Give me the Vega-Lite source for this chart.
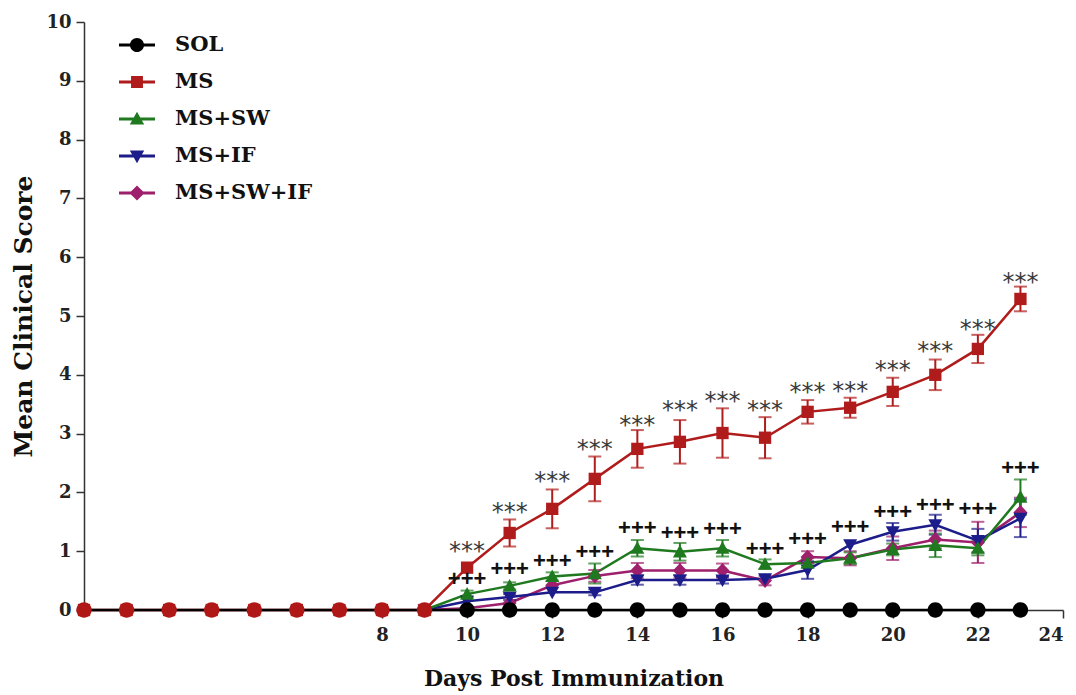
{
  "$schema": "https://vega.github.io/schema/vega-lite/v6.json",
  "width": 979,
  "height": 588,
  "autosize": {"type": "none"},
  "padding": {"left": 84, "top": 22, "right": 13, "bottom": 85},
  "background": "white",
  "config": {
    "view": {"stroke": null},
    "axis": {
      "grid": false,
      "domainColor": "#333",
      "domainWidth": 1.5,
      "tickColor": "#333",
      "tickWidth": 1.5,
      "tickSize": 8,
      "labelFont": "DejaVu Serif",
      "labelFontWeight": "bold",
      "labelFontSize": 18,
      "labelColor": "#222",
      "titleFont": "DejaVu Serif",
      "titleFontWeight": "bold",
      "titleColor": "#111"
    }
  },
  "datasets": {
    "scores": [
      {"g": "MS+SW+IF", "d": 9, "m": 0, "lo": 0, "hi": 0},
      {"g": "MS+SW+IF", "d": 10, "m": 0.03, "lo": 0.03, "hi": 0.03},
      {"g": "MS+SW+IF", "d": 11, "m": 0.12, "lo": 0.12, "hi": 0.12},
      {"g": "MS+SW+IF", "d": 12, "m": 0.42, "lo": 0.42, "hi": 0.42},
      {"g": "MS+SW+IF", "d": 13, "m": 0.58, "lo": 0.48, "hi": 0.68},
      {"g": "MS+SW+IF", "d": 14, "m": 0.67, "lo": 0.54, "hi": 0.8},
      {"g": "MS+SW+IF", "d": 15, "m": 0.67, "lo": 0.54, "hi": 0.8},
      {"g": "MS+SW+IF", "d": 16, "m": 0.67, "lo": 0.55, "hi": 0.79},
      {"g": "MS+SW+IF", "d": 17, "m": 0.5, "lo": 0.42, "hi": 0.58},
      {"g": "MS+SW+IF", "d": 18, "m": 0.9, "lo": 0.8, "hi": 1.0},
      {"g": "MS+SW+IF", "d": 19, "m": 0.88, "lo": 0.76, "hi": 1.0},
      {"g": "MS+SW+IF", "d": 20, "m": 1.05, "lo": 0.85, "hi": 1.25},
      {"g": "MS+SW+IF", "d": 21, "m": 1.2, "lo": 1.05, "hi": 1.35},
      {"g": "MS+SW+IF", "d": 22, "m": 1.15, "lo": 0.8, "hi": 1.5},
      {"g": "MS+SW+IF", "d": 23, "m": 1.66, "lo": 1.41, "hi": 1.91},
      {"g": "MS+IF", "d": 9, "m": 0, "lo": 0, "hi": 0},
      {"g": "MS+IF", "d": 10, "m": 0.15, "lo": 0.15, "hi": 0.15},
      {"g": "MS+IF", "d": 11, "m": 0.22, "lo": 0.17, "hi": 0.27},
      {"g": "MS+IF", "d": 12, "m": 0.3, "lo": 0.3, "hi": 0.3},
      {"g": "MS+IF", "d": 13, "m": 0.3, "lo": 0.25, "hi": 0.35},
      {"g": "MS+IF", "d": 14, "m": 0.51, "lo": 0.43, "hi": 0.59},
      {"g": "MS+IF", "d": 15, "m": 0.51, "lo": 0.43, "hi": 0.59},
      {"g": "MS+IF", "d": 16, "m": 0.51, "lo": 0.45, "hi": 0.57},
      {"g": "MS+IF", "d": 17, "m": 0.53, "lo": 0.53, "hi": 0.53},
      {"g": "MS+IF", "d": 18, "m": 0.68, "lo": 0.53, "hi": 0.83},
      {"g": "MS+IF", "d": 19, "m": 1.11, "lo": 1.11, "hi": 1.11},
      {"g": "MS+IF", "d": 20, "m": 1.33, "lo": 1.18, "hi": 1.48},
      {"g": "MS+IF", "d": 21, "m": 1.45, "lo": 1.28, "hi": 1.62},
      {"g": "MS+IF", "d": 22, "m": 1.18, "lo": 0.98, "hi": 1.38},
      {"g": "MS+IF", "d": 23, "m": 1.56, "lo": 1.24, "hi": 1.88},
      {"g": "MS+SW", "d": 9, "m": 0, "lo": 0, "hi": 0},
      {"g": "MS+SW", "d": 10, "m": 0.27, "lo": 0.21, "hi": 0.33},
      {"g": "MS+SW", "d": 11, "m": 0.41, "lo": 0.35, "hi": 0.47},
      {"g": "MS+SW", "d": 12, "m": 0.57, "lo": 0.5, "hi": 0.64},
      {"g": "MS+SW", "d": 13, "m": 0.62, "lo": 0.45, "hi": 0.79},
      {"g": "MS+SW", "d": 14, "m": 1.05, "lo": 0.91, "hi": 1.19},
      {"g": "MS+SW", "d": 15, "m": 0.99, "lo": 0.84, "hi": 1.14},
      {"g": "MS+SW", "d": 16, "m": 1.05, "lo": 0.91, "hi": 1.19},
      {"g": "MS+SW", "d": 17, "m": 0.78, "lo": 0.7, "hi": 0.86},
      {"g": "MS+SW", "d": 18, "m": 0.8, "lo": 0.72, "hi": 0.88},
      {"g": "MS+SW", "d": 19, "m": 0.88, "lo": 0.78, "hi": 0.98},
      {"g": "MS+SW", "d": 20, "m": 1.03, "lo": 0.93, "hi": 1.13},
      {"g": "MS+SW", "d": 21, "m": 1.1, "lo": 0.9, "hi": 1.3},
      {"g": "MS+SW", "d": 22, "m": 1.05, "lo": 0.93, "hi": 1.17},
      {"g": "MS+SW", "d": 23, "m": 1.92, "lo": 1.62, "hi": 2.22},
      {"g": "MS", "d": 1, "m": 0, "lo": 0, "hi": 0},
      {"g": "MS", "d": 2, "m": 0, "lo": 0, "hi": 0},
      {"g": "MS", "d": 3, "m": 0, "lo": 0, "hi": 0},
      {"g": "MS", "d": 4, "m": 0, "lo": 0, "hi": 0},
      {"g": "MS", "d": 5, "m": 0, "lo": 0, "hi": 0},
      {"g": "MS", "d": 6, "m": 0, "lo": 0, "hi": 0},
      {"g": "MS", "d": 7, "m": 0, "lo": 0, "hi": 0},
      {"g": "MS", "d": 8, "m": 0, "lo": 0, "hi": 0},
      {"g": "MS", "d": 9, "m": 0, "lo": 0, "hi": 0},
      {"g": "MS", "d": 10, "m": 0.72, "lo": 0.72, "hi": 0.72},
      {"g": "MS", "d": 11, "m": 1.31, "lo": 1.08, "hi": 1.54},
      {"g": "MS", "d": 12, "m": 1.72, "lo": 1.39, "hi": 2.05},
      {"g": "MS", "d": 13, "m": 2.23, "lo": 1.85, "hi": 2.61},
      {"g": "MS", "d": 14, "m": 2.74, "lo": 2.42, "hi": 3.06},
      {"g": "MS", "d": 15, "m": 2.86, "lo": 2.49, "hi": 3.23},
      {"g": "MS", "d": 16, "m": 3.01, "lo": 2.59, "hi": 3.43},
      {"g": "MS", "d": 17, "m": 2.93, "lo": 2.58, "hi": 3.28},
      {"g": "MS", "d": 18, "m": 3.37, "lo": 3.17, "hi": 3.57},
      {"g": "MS", "d": 19, "m": 3.44, "lo": 3.27, "hi": 3.61},
      {"g": "MS", "d": 20, "m": 3.71, "lo": 3.47, "hi": 3.95},
      {"g": "MS", "d": 21, "m": 4.0, "lo": 3.74, "hi": 4.26},
      {"g": "MS", "d": 22, "m": 4.44, "lo": 4.2, "hi": 4.68},
      {"g": "MS", "d": 23, "m": 5.29, "lo": 5.08, "hi": 5.5},
      {"g": "SOL", "d": 1, "m": 0, "lo": 0, "hi": 0},
      {"g": "SOL", "d": 2, "m": 0, "lo": 0, "hi": 0},
      {"g": "SOL", "d": 3, "m": 0, "lo": 0, "hi": 0},
      {"g": "SOL", "d": 4, "m": 0, "lo": 0, "hi": 0},
      {"g": "SOL", "d": 5, "m": 0, "lo": 0, "hi": 0},
      {"g": "SOL", "d": 6, "m": 0, "lo": 0, "hi": 0},
      {"g": "SOL", "d": 7, "m": 0, "lo": 0, "hi": 0},
      {"g": "SOL", "d": 8, "m": 0, "lo": 0, "hi": 0},
      {"g": "SOL", "d": 9, "m": 0, "lo": 0, "hi": 0},
      {"g": "SOL", "d": 10, "m": 0, "lo": 0, "hi": 0},
      {"g": "SOL", "d": 11, "m": 0, "lo": 0, "hi": 0},
      {"g": "SOL", "d": 12, "m": 0, "lo": 0, "hi": 0},
      {"g": "SOL", "d": 13, "m": 0, "lo": 0, "hi": 0},
      {"g": "SOL", "d": 14, "m": 0, "lo": 0, "hi": 0},
      {"g": "SOL", "d": 15, "m": 0, "lo": 0, "hi": 0},
      {"g": "SOL", "d": 16, "m": 0, "lo": 0, "hi": 0},
      {"g": "SOL", "d": 17, "m": 0, "lo": 0, "hi": 0},
      {"g": "SOL", "d": 18, "m": 0, "lo": 0, "hi": 0},
      {"g": "SOL", "d": 19, "m": 0, "lo": 0, "hi": 0},
      {"g": "SOL", "d": 20, "m": 0, "lo": 0, "hi": 0},
      {"g": "SOL", "d": 21, "m": 0, "lo": 0, "hi": 0},
      {"g": "SOL", "d": 22, "m": 0, "lo": 0, "hi": 0},
      {"g": "SOL", "d": 23, "m": 0, "lo": 0, "hi": 0}
    ],
    "annot": [
      {"d": 10, "v": 1.07, "t": "***"},
      {"d": 11, "v": 1.74, "t": "***"},
      {"d": 12, "v": 2.26, "t": "***"},
      {"d": 13, "v": 2.81, "t": "***"},
      {"d": 14, "v": 3.21, "t": "***"},
      {"d": 15, "v": 3.47, "t": "***"},
      {"d": 16, "v": 3.62, "t": "***"},
      {"d": 17, "v": 3.47, "t": "***"},
      {"d": 18, "v": 3.78, "t": "***"},
      {"d": 19, "v": 3.79, "t": "***"},
      {"d": 20, "v": 4.15, "t": "***"},
      {"d": 21, "v": 4.47, "t": "***"},
      {"d": 22, "v": 4.85, "t": "***"},
      {"d": 23, "v": 5.65, "t": "***"},
      {"d": 10, "v": 0.53, "t": "+++"},
      {"d": 11, "v": 0.7, "t": "+++"},
      {"d": 12, "v": 0.83, "t": "+++"},
      {"d": 13, "v": 0.99, "t": "+++"},
      {"d": 14, "v": 1.4, "t": "+++"},
      {"d": 15, "v": 1.31, "t": "+++"},
      {"d": 16, "v": 1.38, "t": "+++"},
      {"d": 17, "v": 1.04, "t": "+++"},
      {"d": 18, "v": 1.21, "t": "+++"},
      {"d": 19, "v": 1.41, "t": "+++"},
      {"d": 20, "v": 1.67, "t": "+++"},
      {"d": 21, "v": 1.79, "t": "+++"},
      {"d": 22, "v": 1.72, "t": "+++"},
      {"d": 23, "v": 2.42, "t": "+++"}
    ]
  },
  "encoding": {
    "x": {
      "field": "d",
      "type": "quantitative",
      "scale": {"domain": [1, 24], "nice": false, "zero": false},
      "axis": {"values": [8, 10, 12, 14, 16, 18, 20, 22, 24], "title": "Days Post Immunization", "titleFontSize": 22, "labelPadding": 8, "titlePadding": 24}
    }
  },
  "layer": [
    {
      "data": {"name": "scores"},
      "mark": {"type": "line", "strokeWidth": 2.5},
      "encoding": {
        "y": {
          "field": "m",
          "type": "quantitative",
          "scale": {"domain": [0, 10], "nice": false},
          "axis": {"values": [0, 1, 2, 3, 4, 5, 6, 7, 8, 9, 10], "format": "d", "title": "Mean Clinical Score", "titleFontSize": 25, "labelPadding": 5, "titlePadding": 9}
        },
        "color": {
          "field": "g",
          "type": "nominal",
          "scale": {"domain": ["SOL", "MS", "MS+SW", "MS+IF", "MS+SW+IF"], "range": ["#000000", "#b01c1c", "#1f7a1f", "#1c1c8a", "#9e1f6b"]},
          "legend": {
            "title": null,
            "orient": "none",
            "legendX": 35,
            "legendY": 5,
            "symbolSize": 1296,
            "symbolStrokeWidth": 0,
            "symbolOpacity": 1,
            "labelFont": "DejaVu Serif",
            "labelFontWeight": "bold",
            "labelFontSize": 21,
            "labelColor": "#111",
            "labelOffset": 20,
            "rowPadding": 9,
            "padding": 0,
            "encode": {
              "symbols": {
                "update": {
                  "fill": {"scale": "color", "field": "value"},
                  "stroke": {"value": "transparent"},
                  "strokeWidth": {"value": 0},
                  "opacity": {"value": 1},
                  "shape": {"signal": "'M-1,-0.08H1V0.08H-1Z' + (datum.value == 'SOL' ? 'M0.39,0A0.39,0.39,0,1,1,-0.39,0A0.39,0.39,0,1,1,0.39,0Z' : datum.value == 'MS' ? 'M-0.33,-0.33H0.33V0.33H-0.33Z' : datum.value == 'MS+SW' ? 'M0,-0.4L0.4,0.3H-0.4Z' : datum.value == 'MS+IF' ? 'M0,0.4L-0.4,-0.3H0.4Z' : 'M0,-0.42L0.42,0L0,0.42L-0.42,0Z')"}
                }
              }
            }
          }
        }
      }
    },
    {
      "data": {"name": "scores"},
      "transform": [{"filter": "datum.hi > datum.lo"}],
      "mark": {"type": "errorbar", "ticks": {"size": 13, "thickness": 2}, "thickness": 2},
      "encoding": {
        "y": {"field": "lo", "type": "quantitative", "title": "Mean Clinical Score"},
        "y2": {"field": "hi"},
        "color": {"field": "g", "type": "nominal"}
      }
    },
    {
      "data": {"name": "scores"},
      "transform": [{"filter": "datum.g == 'MS+SW+IF'"}],
      "mark": {"type": "point", "filled": true, "opacity": 1, "size": 196, "strokeWidth": 0, "shape": "M0,-1.05L1,0L0,1.05L-1,0Z"},
      "encoding": {
        "y": {"field": "m", "type": "quantitative", "title": "Mean Clinical Score"},
        "color": {"field": "g", "type": "nominal"}
      }
    },
    {
      "data": {"name": "scores"},
      "transform": [{"filter": "datum.g == 'MS+IF'"}],
      "mark": {"type": "point", "filled": true, "opacity": 1, "size": 196, "strokeWidth": 0, "shape": "M0,1L1,-0.8H-1Z"},
      "encoding": {
        "y": {"field": "m", "type": "quantitative", "title": "Mean Clinical Score"},
        "color": {"field": "g", "type": "nominal"}
      }
    },
    {
      "data": {"name": "scores"},
      "transform": [{"filter": "datum.g == 'MS+SW'"}],
      "mark": {"type": "point", "filled": true, "opacity": 1, "size": 196, "strokeWidth": 0, "shape": "M0,-1L1,0.8H-1Z"},
      "encoding": {
        "y": {"field": "m", "type": "quantitative", "title": "Mean Clinical Score"},
        "color": {"field": "g", "type": "nominal"}
      }
    },
    {
      "data": {"name": "scores"},
      "transform": [{"filter": "datum.g == 'MS'"}],
      "mark": {"type": "point", "filled": true, "opacity": 1, "size": 196, "strokeWidth": 0, "shape": "M-0.88,-0.88H0.88V0.88H-0.88Z"},
      "encoding": {
        "y": {"field": "m", "type": "quantitative", "title": "Mean Clinical Score"},
        "color": {"field": "g", "type": "nominal"}
      }
    },
    {
      "data": {"name": "scores"},
      "transform": [{"filter": "datum.g == 'SOL' && datum.d >= 10"}],
      "mark": {"type": "point", "filled": true, "opacity": 1, "size": 196, "strokeWidth": 0, "shape": "M1.1,0A1.1,1.1,0,1,1,-1.1,0A1.1,1.1,0,1,1,1.1,0Z"},
      "encoding": {
        "y": {"field": "m", "type": "quantitative", "title": "Mean Clinical Score"},
        "color": {"field": "g", "type": "nominal"}
      }
    },
    {
      "data": {"name": "scores"},
      "transform": [{"filter": "datum.g == 'SOL' && datum.d <= 9"}],
      "mark": {"type": "point", "filled": true, "opacity": 1, "size": 196, "strokeWidth": 0, "color": "#b01818", "shape": "M1.1,0A1.1,1.1,0,1,1,-1.1,0A1.1,1.1,0,1,1,1.1,0Z"},
      "encoding": {
        "y": {"field": "m", "type": "quantitative", "title": "Mean Clinical Score"}
      }
    },
    {
      "data": {"name": "annot"},
      "transform": [{"filter": "datum.t == '***'"}],
      "mark": {"type": "text", "font": "DejaVu Sans", "fontSize": 24, "color": "#3a3a3a", "baseline": "alphabetic", "dy": 12, "align": "center"},
      "encoding": {
        "y": {"field": "v", "type": "quantitative", "title": "Mean Clinical Score"},
        "text": {"field": "t"}
      }
    },
    {
      "data": {"name": "annot"},
      "transform": [{"filter": "datum.t == '+++'"}],
      "mark": {"type": "text", "font": "Liberation Sans", "fontWeight": "bold", "fontSize": 22, "color": "#111", "baseline": "alphabetic", "dy": 7, "align": "center"},
      "encoding": {
        "y": {"field": "v", "type": "quantitative", "title": "Mean Clinical Score"},
        "text": {"field": "t"}
      }
    }
  ]
}
